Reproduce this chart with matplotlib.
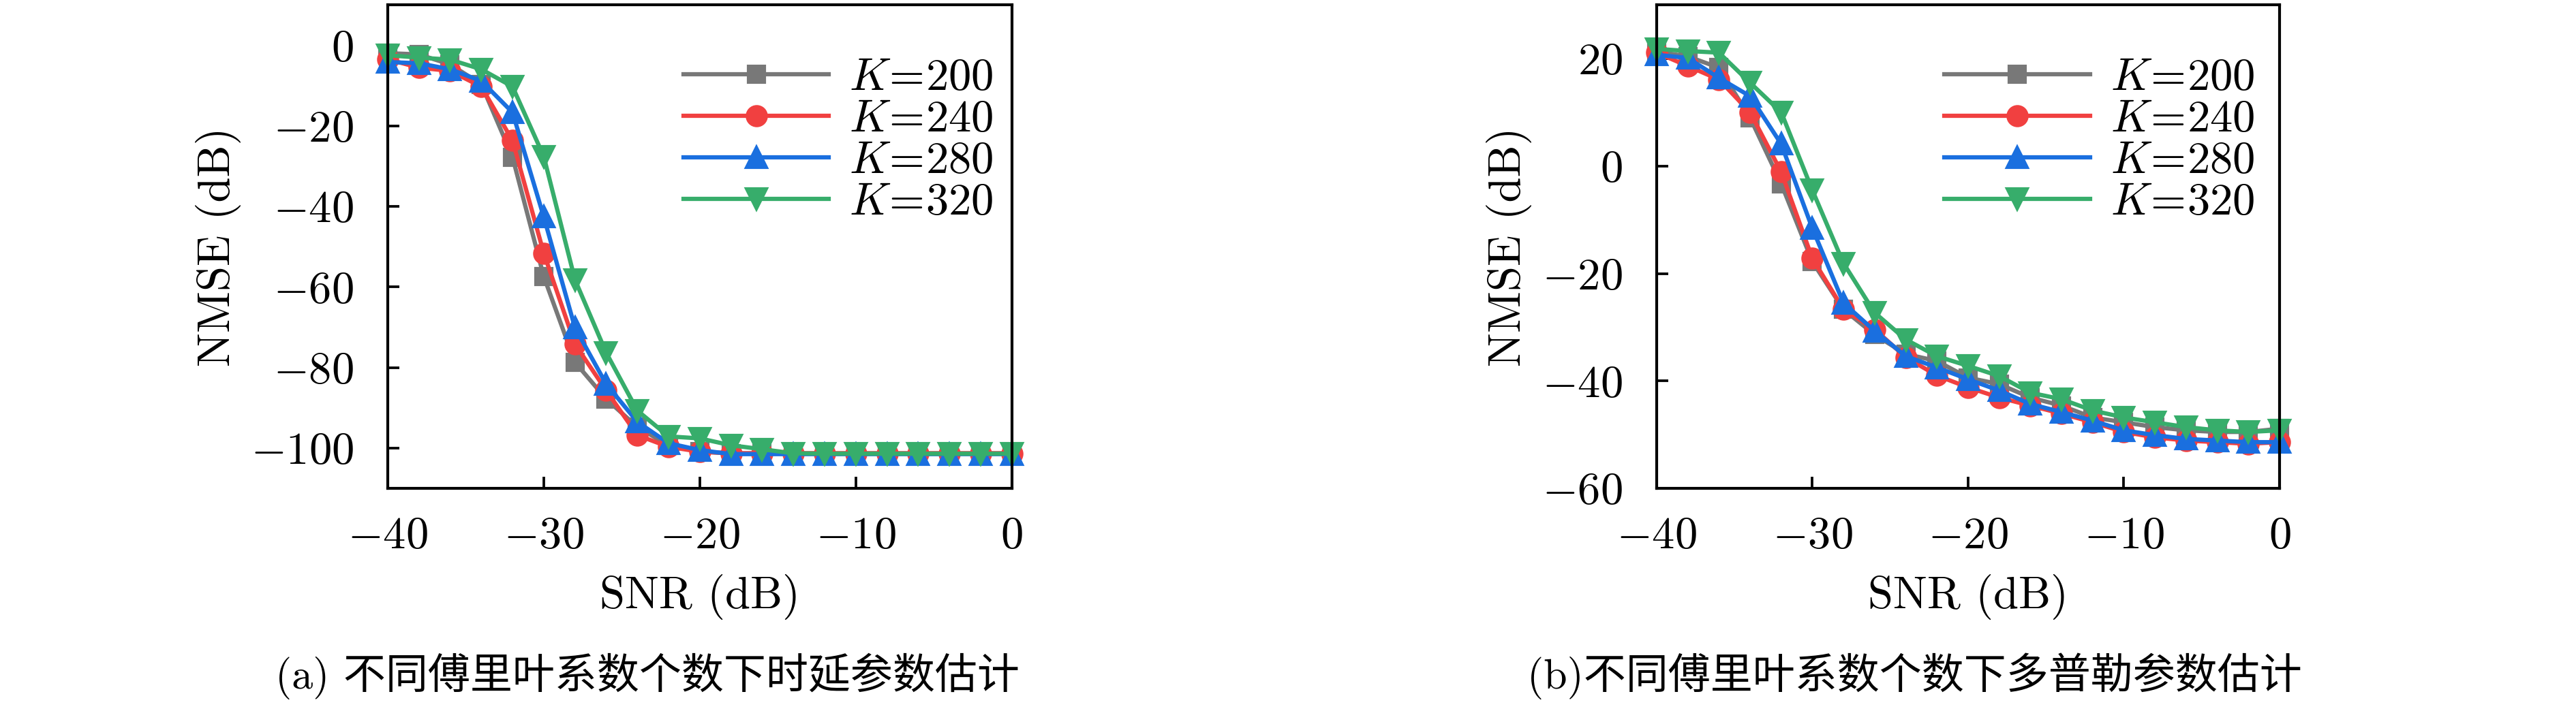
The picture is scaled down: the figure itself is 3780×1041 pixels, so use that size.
import matplotlib
matplotlib.use('Agg')
import matplotlib.pyplot as plt
from matplotlib.ticker import FuncFormatter

plt.rcParams['font.family'] = ['cmr10', 'Noto Sans CJK SC']
plt.rcParams['mathtext.fontset'] = 'cm'
plt.rcParams['axes.unicode_minus'] = True

# ---------------- data ----------------
snr_db = [-40, -38, -36, -34, -32, -30, -28, -26, -24, -22, -20,
          -18, -16, -14, -12, -10, -8, -6, -4, -2, 0]

series_labels = [r'$K\!=\!200$', r'$K\!=\!240$', r'$K\!=\!280$', r'$K\!=\!320$']

# (a) delay estimation NMSE (dB)
delay_k200 = [-2.0, -2.3, -4.8, -9.7, -27.8, -57.4, -78.7, -87.8, -94.8, -99.3, -100.9,
              -101.3, -101.3, -101.3, -101.3, -101.3, -101.3, -101.3, -101.3, -101.3, -101.3]
delay_k240 = [-3.5, -5.6, -6.4, -10.3, -23.7, -51.6, -74.2, -85.7, -96.8, -99.7, -100.9,
              -101.3, -101.3, -101.3, -101.3, -101.3, -101.3, -101.3, -101.3, -101.3, -101.3]
delay_k280 = [-4.2, -4.5, -6.0, -8.9, -16.7, -42.6, -70.1, -84.1, -93.5, -98.8, -100.5,
              -101.5, -101.5, -101.5, -101.5, -101.5, -101.5, -101.5, -101.5, -101.5, -101.5]
delay_k320 = [-2.5, -3.1, -3.6, -6.0, -10.3, -27.6, -58.2, -76.3, -90.7, -97.1, -97.6,
              -99.3, -100.3, -101.3, -101.4, -101.4, -101.4, -101.4, -101.4, -101.4, -101.4]

# (b) Doppler estimation NMSE (dB)
doppler_k200 = [21.3, 20.4, 18.3, 9.0, -3.3, -17.8, -26.7, -31.4, -35.0, -36.3, -39.4,
                -40.6, -43.1, -44.6, -46.8, -47.7, -48.6, -49.2, -49.5, -49.5, -48.9]
doppler_k240 = [21.1, 18.6, 16.1, 10.0, -1.1, -17.2, -26.7, -30.4, -35.6, -39.0, -41.2,
                -43.1, -44.6, -46.1, -47.7, -49.5, -50.5, -51.1, -51.4, -51.7, -51.4]
doppler_k280 = [20.7, 20.1, 16.4, 13.0, 4.1, -11.6, -25.5, -30.7, -35.4, -37.5, -39.7,
                -41.8, -44.3, -45.8, -47.4, -49.2, -50.1, -50.8, -51.1, -51.4, -51.4]
doppler_k320 = [21.8, 21.4, 21.1, 15.5, 10.0, -4.5, -18.1, -27.3, -32.3, -35.4, -37.2,
                -39.1, -42.2, -43.4, -45.5, -46.8, -47.7, -48.6, -49.2, -49.5, -49.2]

x_ticks = [-40, -30, -20, -10, 0]
y_ticks_a = [0, -20, -40, -60, -80, -100]
y_ticks_b = [20, 0, -20, -40, -60]

captions = ['(a) 不同傅里叶系数个数下时延参数估计',
            '(b)不同傅里叶系数个数下多普勒参数估计']

# ---------------- style ----------------
colors = ['#787878', '#f14040', '#1a6fdf', '#37ad6b']
markers = ['s', 'o', '^', 'v']
msizes = [5.6, 6.8, 7.4, 7.4]
FS = 16

fig = plt.figure(figsize=(12.6, 3.47), dpi=300)
ax_a = fig.add_axes([0.1505, 0.3112, 0.2423, 0.682])
ax_b = fig.add_axes([0.6431, 0.3112, 0.2418, 0.682])

fmt = FuncFormatter(lambda v, p: r'$%d$' % v)


def draw(ax, data, ylim, yticks, ylab_x, legend_x):
    for vals, c, m, ms, lab in zip(data, colors, markers, msizes, series_labels):
        ax.plot(snr_db, vals, color=c, marker=m, markersize=ms, linewidth=1.5,
                label=lab, clip_on=False)
    ax.set_xlim(-40, 0)
    ax.set_ylim(*ylim)
    ax.set_xticks(x_ticks)
    ax.set_yticks(yticks)
    ax.xaxis.set_major_formatter(fmt)
    ax.yaxis.set_major_formatter(fmt)
    ax.tick_params(direction='in', length=4, width=0.9, labelsize=FS,
                   top=False, right=False)
    ax.tick_params(axis='x', pad=10)
    ax.tick_params(axis='y', pad=12)
    for s in ax.spines.values():
        s.set_linewidth(1.0)
    ax.set_xlabel('SNR (dB)', fontsize=FS)
    ax.set_ylabel('NMSE (dB)', fontsize=FS)
    ax.xaxis.set_label_coords(0.5, -0.178)
    ax.yaxis.set_label_coords(ylab_x, 0.5)
    ax.legend(loc='upper left', bbox_to_anchor=(legend_x, 0.89), frameon=False,
              fontsize=FS, handlelength=3.2, handletextpad=0.45,
              labelspacing=0.02, borderpad=0, borderaxespad=0)


draw(ax_a, [delay_k200, delay_k240, delay_k280, delay_k320], (-110, 10),
     y_ticks_a, -0.235, 0.474)
draw(ax_b, [doppler_k200, doppler_k240, doppler_k280, doppler_k320], (-60, 30),
     y_ticks_b, -0.2, 0.462)

fig.text(0.2513, 0.046, captions[0], ha='center', va='center', fontsize=14.9)
fig.text(0.7431, 0.046, captions[1], ha='center', va='center', fontsize=14.9)

fig.savefig('out.png', dpi=300)
